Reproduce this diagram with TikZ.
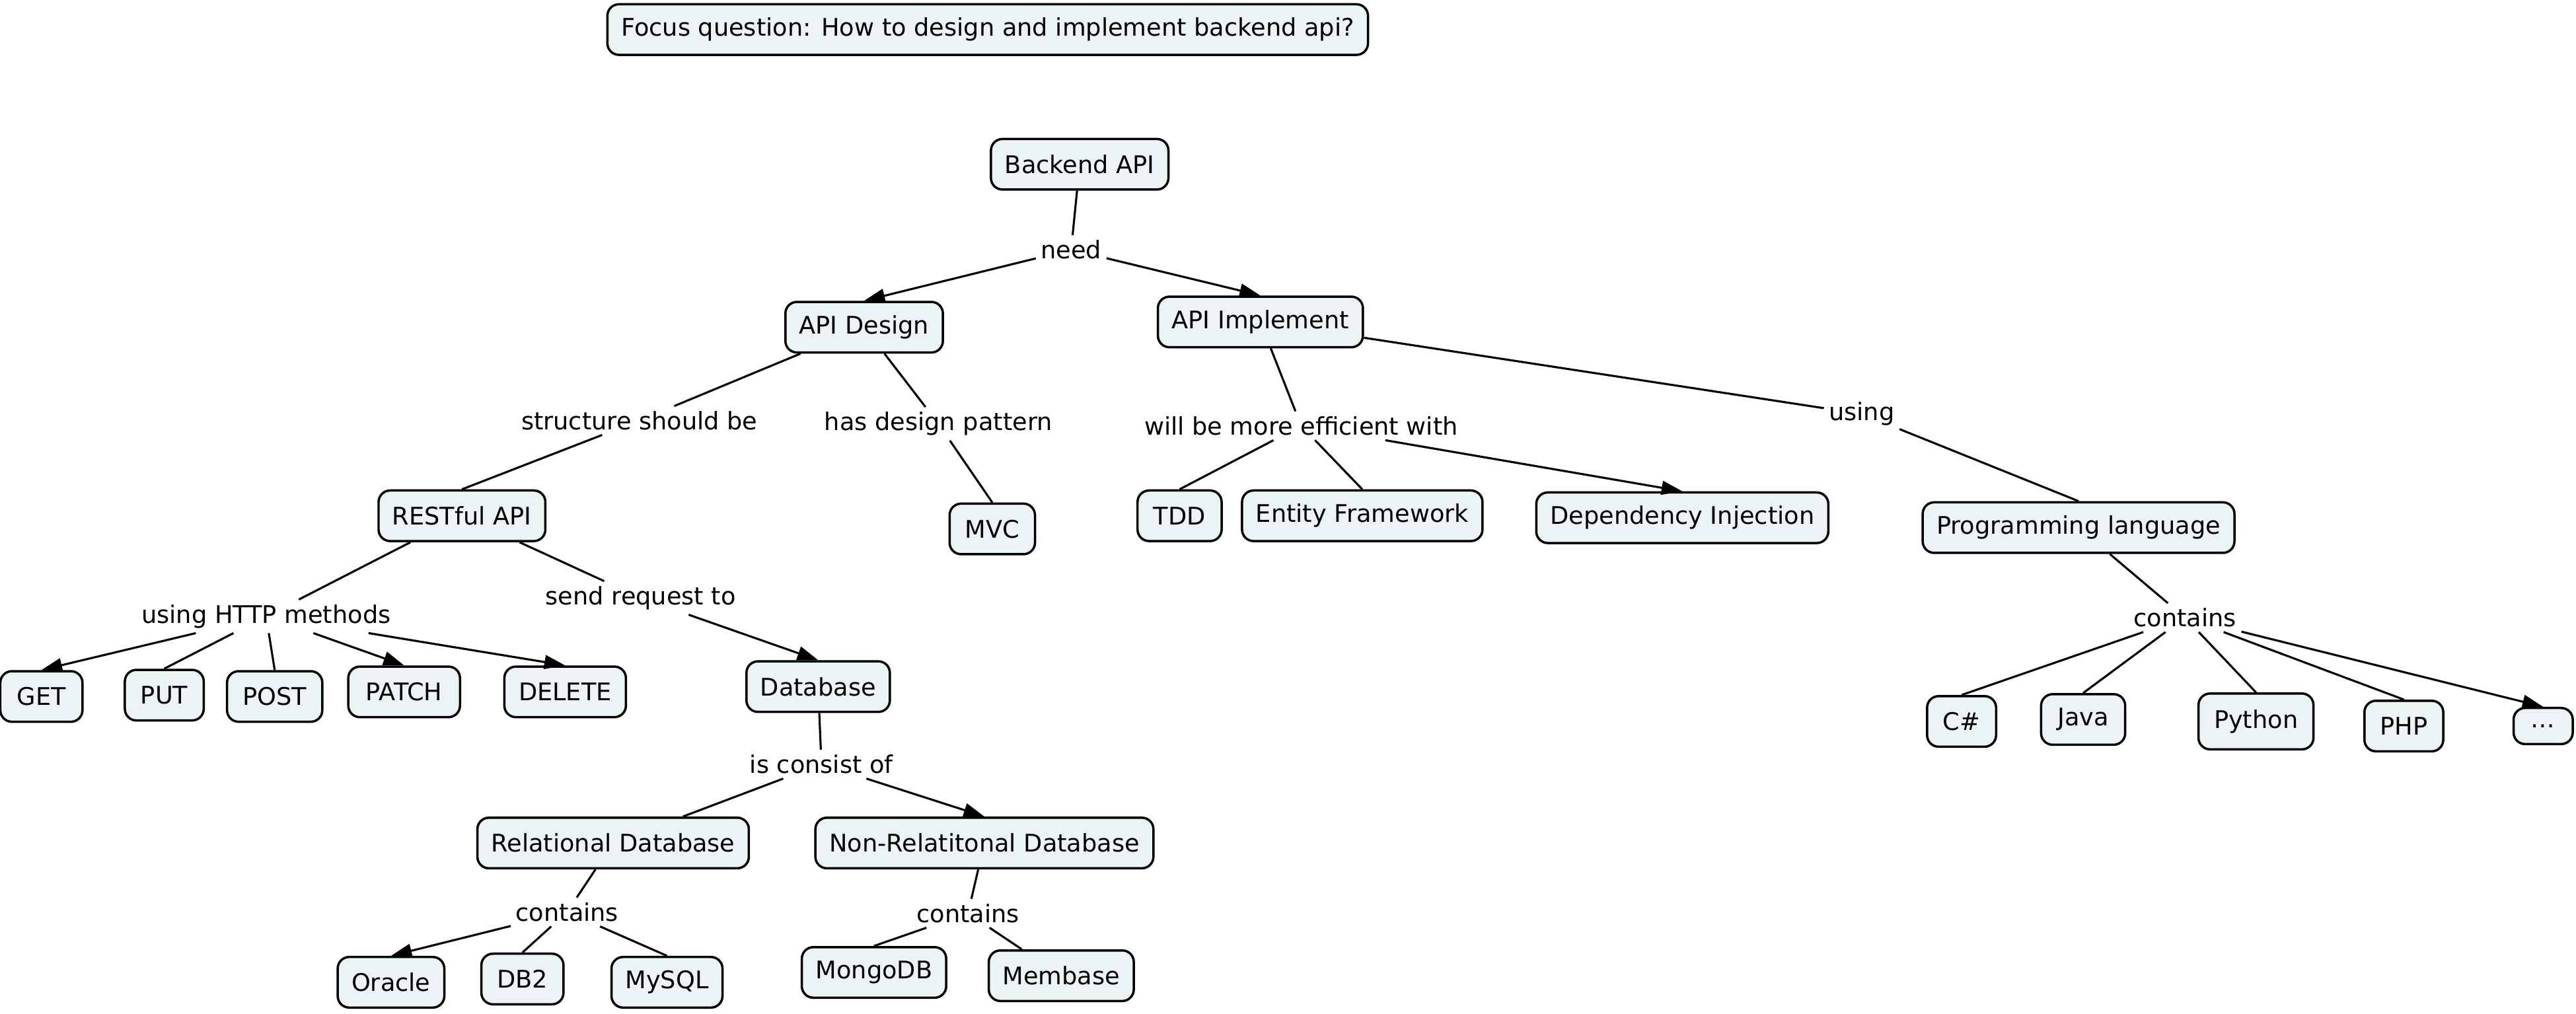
\documentclass[tikz,border=0pt]{standalone}
\usepackage{fontspec}
\setmainfont{DejaVu Sans}
\usetikzlibrary{arrows.meta}
\definecolor{boxfill}{RGB}{236,243,245}
\begin{document}
\begin{tikzpicture}[>={Triangle[length=9pt,width=6pt]},line join=round,font=\fontsize{10.5}{12.6}\selectfont,
    concept/.style={draw,line width=1pt,fill=boxfill,rounded corners=5pt,minimum height=0.77cm,inner xsep=6pt},
    phrase/.style={fill=white,inner sep=2pt},
    link/.style={line width=0.9pt}]
            \useasboundingbox (0,0) rectangle (39.2,-15.425);
            % linking phrases
            \node[phrase] (need) at (16.30,-3.80) {need};
            \node[phrase] (structure) at (9.73,-6.40) {structure should be};
            \node[phrase] (hasdp) at (14.28,-6.45) {has design pattern};
            \node[phrase] (efficient) at (19.80,-6.48) {will be more efficient with};
            \node[phrase] (using) at (28.33,-6.30) {using};
            \node[phrase] (http) at (4.05,-9.38) {using HTTP methods};
            \node[phrase] (send) at (9.75,-9.10) {send request to};
            \node[phrase] (consist) at (12.50,-11.63) {is consist of};
            \node[phrase] (contA) at (8.63,-13.88) {contains};
            \node[phrase] (contB) at (14.73,-13.90) {contains};
            \node[phrase] (contC) at (33.25,-9.40) {contains};
            % concepts
            \node[concept] (focus) at (15.03,-0.45) {Focus question: How to design and implement backend api?};
            \node[concept] (backend) at (16.43,-2.50) {Backend API};
            \node[concept] (design) at (13.15,-4.98) {API Design};
            \node[concept] (impl) at (19.18,-4.90) {API Implement};
            \node[concept] (rest) at (7.03,-7.85) {RESTful API};
            \node[concept,minimum width=1.3cm] (mvc) at (15.10,-8.05) {MVC};
            \node[concept,minimum width=1.28cm] (tdd) at (17.95,-7.85) {TDD};
            \node[concept] (ef) at (20.73,-7.85) {Entity Framework};
            \node[concept] (di) at (25.60,-7.88) {Dependency Injection};
            \node[concept] (prog) at (31.63,-8.03) {Programming language};
            \node[concept,minimum width=1.25cm] (get) at (0.63,-10.60) {GET};
            \node[concept,minimum width=1.2cm] (put) at (2.50,-10.58) {PUT};
            \node[concept,minimum width=1.45cm] (post) at (4.18,-10.60) {POST};
            \node[concept,minimum width=1.7cm] (patch) at (6.15,-10.53) {PATCH};
            \node[concept,minimum width=1.85cm] (delete) at (8.60,-10.53) {DELETE};
            \node[concept] (db) at (12.45,-10.45) {Database};
            \node[concept] (rel) at (9.33,-12.83) {Relational Database};
            \node[concept] (nonrel) at (14.98,-12.83) {Non-Relatitonal Database};
            \node[concept] (oracle) at (5.95,-14.95) {Oracle};
            \node[concept,minimum width=1.25cm] (db2) at (7.95,-14.90) {DB2};
            \node[concept] (mysql) at (10.15,-14.95) {MySQL};
            \node[concept] (mongo) at (13.30,-14.80) {MongoDB};
            \node[concept] (membase) at (16.15,-14.85) {Membase};
            \node[concept,minimum width=1.05cm] (cs) at (29.85,-10.98) {C\#};
            \node[concept,minimum width=1.28cm] (java) at (31.70,-10.95) {Java};
            \node[concept,minimum width=1.75cm,minimum height=0.85cm] (python) at (34.33,-10.98) {Python};
            \node[concept,minimum width=1.2cm] (php) at (36.58,-11.05) {PHP};
            \node[concept,minimum width=0.9cm,minimum height=0.55cm,inner ysep=1pt] (dots) at (38.70,-11.05) {…};
            % concept to phrase
            \foreach \a/\b in {backend/need,design/structure,design/hasdp,impl/efficient,impl/using,
                rest/http,rest/send,db/consist,rel/contA,nonrel/contB,prog/contC,consist/rel,contB/membase}
                \draw[link] (\a)--(\b);
            % phrase to concept, plain
            \foreach \a/\b in {structure/rest,hasdp/mvc,efficient/tdd,efficient/ef,using/prog,http/put,
                http/post,contA/db2,contA/mysql,contB/mongo,contC/cs,contC/java,contC/python,contC/php}
                \draw[link] (\a)--(\b.north);
            % phrase to concept, with arrows
            \foreach \a/\b in {need/design,need/impl,efficient/di,http/get,http/patch,http/delete,
                send/db,consist/nonrel,contA/oracle,contC/dots}
                \draw[link,->] (\a)--(\b.north);
        \end{tikzpicture}
\end{document}
